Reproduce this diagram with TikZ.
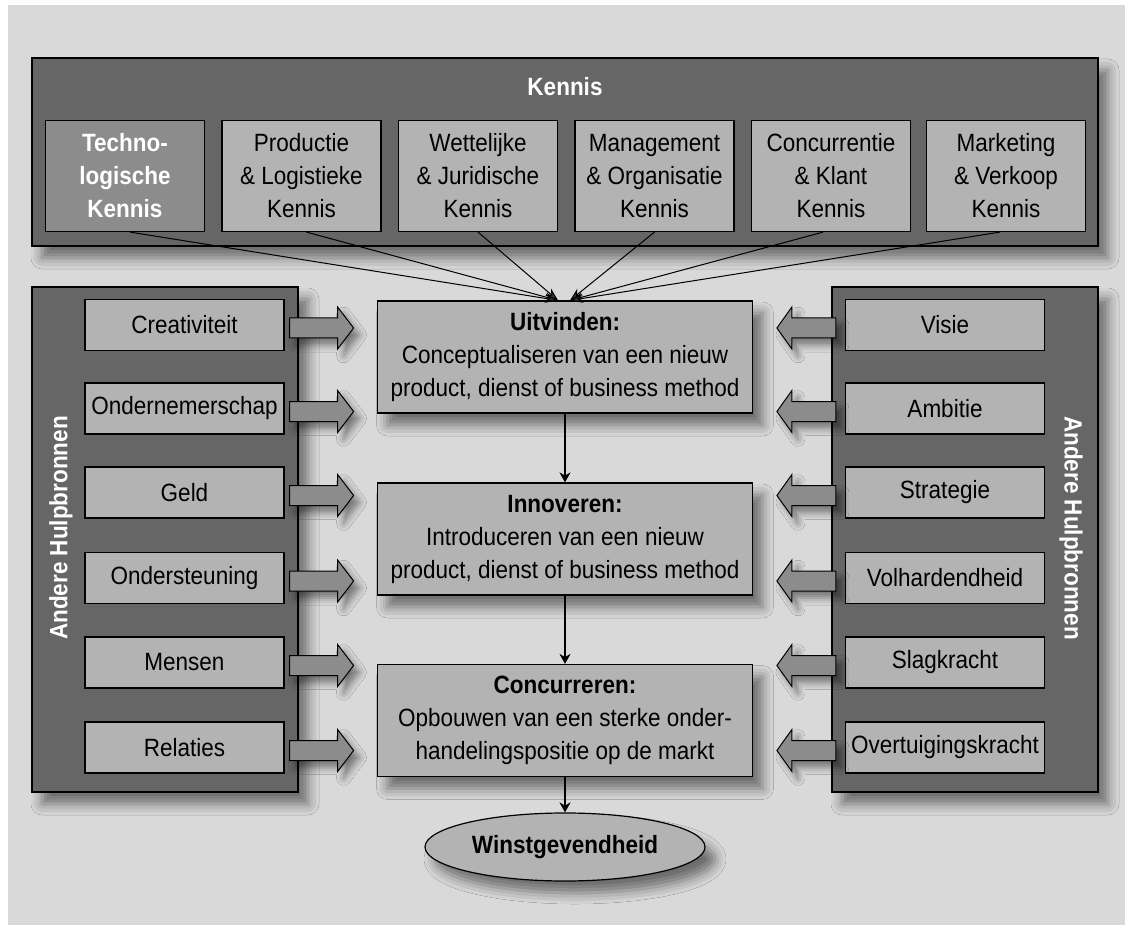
\documentclass[tikz,border=0pt]{standalone}
\usepackage{fontspec}
\setmainfont{Liberation Sans}[FakeStretch=0.9]
\usetikzlibrary{calc,arrows.meta,shapes.geometric,shadows.blur}
\definecolor{bg}{HTML}{D9D9D9}
\definecolor{panelgray}{HTML}{666666}
\definecolor{boxgray}{HTML}{B3B3B3}
\definecolor{midgray}{HTML}{8C8C8C}
\tikzset{
  txt/.style={font=\fontsize{25}{33}\selectfont, align=center, inner sep=0pt},
  shad/.style={blur shadow={shadow xshift=10pt, shadow yshift=-12pt, shadow blur radius=11pt, shadow opacity=50}},
  panel/.style={draw=black, line width=1.2pt, fill=panelgray, inner sep=0pt, shad},
  kbox/.style={txt, draw=black, line width=1.2pt, fill=boxgray, minimum width=159pt, minimum height=111pt},
  sidebox/.style={txt, draw=black, line width=1.2pt, fill=boxgray, minimum width=199pt, minimum height=51pt},
  midbox/.style={txt, draw=black, line width=1.2pt, fill=boxgray, minimum width=375pt, minimum height=112pt, shad},
  barrow/.style={draw=black, line width=1pt, fill=midgray, line join=miter, blur shadow={shadow xshift=6pt, shadow yshift=-7pt, shadow blur radius=7pt, shadow opacity=45}},
  klink/.style={line width=1pt, -{Stealth[length=13pt,width=9pt]}},
  vlink/.style={line width=2pt, -{Stealth[length=10pt,width=11pt]}},
  vtitle/.style={txt, text=white, font=\bfseries\fontsize{25}{33}\selectfont}
}
\newcommand\rarrow[1]{\draw[barrow] ($(#1.east)+(5,-7)$) -- ++(48,0) -- ++(0,-11) -- ++(16,21) -- ++(-16,21) -- ++(0,-11) -- ++(-48,0) -- cycle;}
\newcommand\larrow[1]{\draw[barrow] ($(#1.west)+(-9,-7)$) -- ++(-44,0) -- ++(0,-11) -- ++(-15,21) -- ++(15,21) -- ++(0,-11) -- ++(44,0) -- cycle;}
\begin{document}
\begin{tikzpicture}[x=1pt,y=-1pt]
\useasboundingbox (0,0) rectangle (1125,925);
\fill[white] (0,0) rectangle (1125,925);
\fill[bg] (8,5) rectangle (1125,925);

% panels
\node[panel, minimum width=1066pt, minimum height=188pt] (kennis) at (565,152) {};
\node[panel, minimum width=266pt, minimum height=505pt] (leftp) at (165,539.5) {};
\node[panel, minimum width=266pt, minimum height=505pt] (rightp) at (965,539.5) {};

\node[vtitle] (ktitle) at (565,87) {Kennis};
\node[vtitle, rotate=90] (ltitle) at (61,528) {Andere Hulpbronnen};
\node[vtitle, rotate=-90] (rtitle) at (1071,528) {Andere Hulpbronnen};

% kennis boxes
\node[kbox, fill=midgray, text=white, font=\bfseries\fontsize{25}{33}\selectfont] (k1) at (125,176) {Techno-\\logische\\Kennis};
\node[kbox] (k2) at (301.5,176) {Productie\\\& Logistieke\\Kennis};
\node[kbox] (k3) at (478,176) {Wettelijke\\\& Juridische\\Kennis};
\node[kbox] (k4) at (654.5,176) {Management\\\& Organisatie\\Kennis};
\node[kbox] (k5) at (831,176) {Concurrentie\\\& Klant\\Kennis};
\node[kbox] (k6) at (1006,176) {Marketing\\\& Verkoop\\Kennis};

% left boxes
\node[sidebox] (l1) at (184.5,325) {Creativiteit};
\node[sidebox] (l2) at (184.5,408.5) {Ondernemerschap};
\node[sidebox] (l3) at (184.5,492.5) {Geld};
\node[sidebox] (l4) at (184.5,578) {Ondersteuning};
\node[sidebox] (l5) at (184.5,662.5) {Mensen};
\node[sidebox] (l6) at (184.5,747.5) {Relaties};

% right boxes
\node[sidebox] (r1) at (945,325) {Visie};
\node[sidebox] (r2) at (945,408.5) {Ambitie};
\node[sidebox] (r3) at (945,492.5) {Strategie};
\node[sidebox] (r4) at (945,578) {Volhardendheid};
\node[sidebox] (r5) at (945,662.5) {Slagkracht};
\node[sidebox] (r6) at (945,747.5) {Overtuigingskracht};

% block arrows
\rarrow{l1}\rarrow{l2}\rarrow{l3}\rarrow{l4}\rarrow{l5}\rarrow{l6}
\larrow{r1}\larrow{r2}\larrow{r3}\larrow{r4}\larrow{r5}\larrow{r6}

% middle
\node[midbox] (u) at (565,357) {\textbf{Uitvinden:}\\Conceptualiseren van een nieuw\\product, dienst of business method};
\node[midbox] (i) at (565,539) {\textbf{Innoveren:}\\Introduceren van een nieuw\\product, dienst of business method};
\node[midbox] (c) at (565,720.5) {\textbf{Concurreren:}\\Opbouwen van een sterke onder-\\handelingspositie op de markt};
\node[ellipse, draw=black, line width=1.2pt, fill=boxgray, minimum width=280pt, minimum height=68pt, inner sep=0pt, shad, font=\bfseries\fontsize{25}{33}\selectfont] (w) at (565,847) {Winstgevendheid};

% knowledge links
\draw[klink] ([xshift=5pt]k1.south) -- ([xshift=-7pt]u.north);
\draw[klink] ([xshift=5pt]k2.south) -- ([xshift=-7pt]u.north);
\draw[klink] (k3.south) -- ([xshift=-7pt]u.north);
\draw[klink] (k4.south) -- ([xshift=5pt]u.north);
\draw[klink] ([xshift=-8pt]k5.south) -- ([xshift=5pt]u.north);
\draw[klink] ([xshift=-6pt]k6.south) -- ([xshift=5pt]u.north);

% flow
\draw[vlink] (u.south) -- (i.north);
\draw[vlink] (i.south) -- (c.north);
\draw[vlink] (c.south) -- (w.north);
\end{tikzpicture}
\end{document}
